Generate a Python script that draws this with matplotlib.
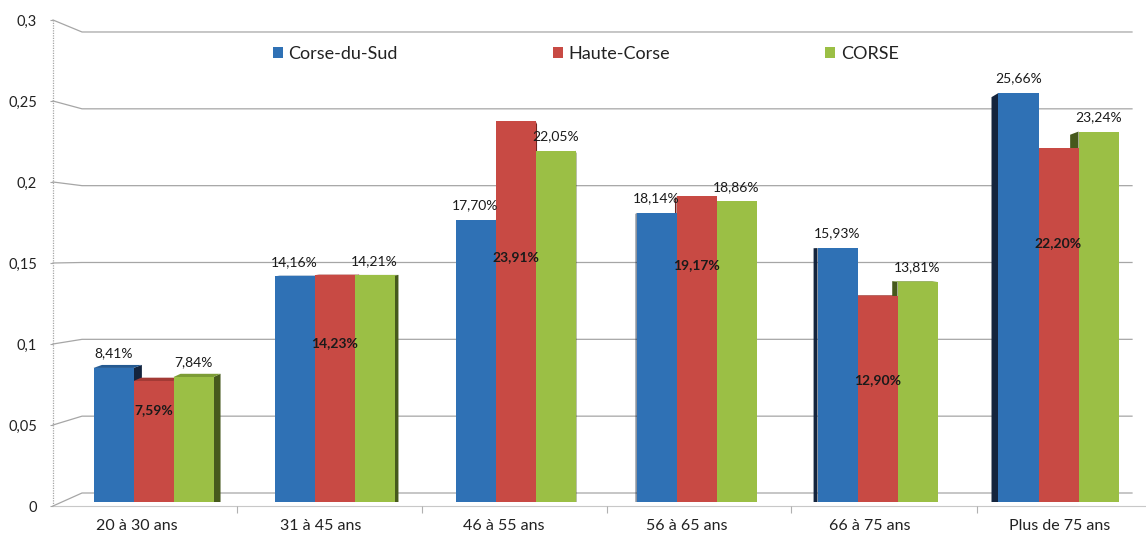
import matplotlib
matplotlib.use("Agg")
import matplotlib.pyplot as plt
from matplotlib.patches import Polygon, Patch
import numpy as np

plt.rcParams['font.family'] = ['Lato', 'DejaVu Sans']

# ---------------- data ----------------
categories = ["20 à 30 ans", "31 à 45 ans", "46 à 55 ans", "56 à 65 ans", "66 à 75 ans", "Plus de 75 ans"]
series_names = ["Corse-du-Sud", "Haute-Corse", "CORSE"]
corse_du_sud = [0.0841, 0.1416, 0.1770, 0.1814, 0.1593, 0.2566]
haute_corse = [0.0759, 0.1423, 0.2391, 0.1917, 0.1290, 0.2220]
corse = [0.0784, 0.1421, 0.2205, 0.1886, 0.1381, 0.2324]
y_ticks = [0, 0.05, 0.1, 0.15, 0.2, 0.25, 0.3]
y_tick_labels = ["0", "0,05", "0,1", "0,15", "0,2", "0,25", "0,3"]
# heights (in value units) at which Excel placed the Haute-Corse labels (inside the bars)
haute_corse_label_y = [0.0577, 0.0998, 0.1537, 0.1487, 0.0765, 0.1625]

# ---------------- layout helpers (pixel geometry of the 3D look) ----------------
W, H = 1146, 537
fig = plt.figure(figsize=(W / 100, H / 100), dpi=100)
fig.patch.set_facecolor("white")

AX_L, AX_R, AX_T, AX_B = 53, 1146, 0, 506
ax = fig.add_axes([AX_L / W, 1 - AX_B / H, (AX_R - AX_L) / W, (AX_B - AX_T) / H])

X0, XS = 153.5, 181.0      # pixel x of group 0 centre, pixels per group
Y0, YS = 502.0, 1594.0     # pixel y of value 0 on the bars, pixels per unit

def px_x(px):
    return (px - X0) / XS

def px_y(py):
    return (Y0 - py) / YS

ax.set_xlim(px_x(AX_L), px_x(AX_R))
ax.set_ylim(px_y(AX_B), px_y(AX_T))
for s in ax.spines.values():
    s.set_visible(False)

grid_col = "#a6a6a6"

def front_y(v):   # front axis (tick positions)
    return px_y(506 - 1620 * v)

def back_y(v):    # back wall
    return px_y(493 - 1536.7 * v)

# back-wall gridlines with perspective slant
for v in y_ticks:
    ax.plot([px_x(53), px_x(82), px_x(1132)], [front_y(v), back_y(v), back_y(v)],
            color=grid_col, lw=0.9, zorder=1, clip_on=False)
# front vertical axis line
ax.plot([px_x(53), px_x(53)], [front_y(0), front_y(0.3)], color=grid_col, lw=0.9,
        ls=(0, (1, 1)), zorder=1, clip_on=False)
# front floor edge
ax.plot([px_x(53), px_x(1146)], [front_y(0), front_y(0)], color="#c8c8c8", lw=0.8,
        zorder=1, clip_on=False)

# y ticks on the front axis
ax.set_yticks([front_y(v) for v in y_ticks])
ax.set_yticklabels(y_tick_labels)
ax.tick_params(axis="y", length=2.5, width=0.8, color=grid_col, pad=9, labelsize=10.5,
               labelcolor="#222222")

# category labels (shifted by perspective) and small separator ticks
label_px = [137, 321, 504, 687, 870, 1060]
sep_px = [237, 422, 607, 791, 977]
ax.set_xticks([px_x(p) for p in label_px])
ax.set_xticklabels(categories)
ax.set_xticks([px_x(p) for p in sep_px], minor=True)
ax.tick_params(axis="x", which="major", length=0, pad=9, labelsize=11.5, labelcolor="#222222")
ax.tick_params(axis="x", which="minor", length=5, width=0.8, color="#b0b0b0")

# ---------------- bars ----------------
colors = ["#2f71b5", "#c84a44", "#9bbf45"]
side_colors = ["#14243d", "#6e2420", "#46591c"]
top_colors = ["#245a92", "#a33a35", "#7c9c35"]
bw = 40 / XS
offsets = [-bw, 0, bw]
series = [corse_du_sud, haute_corse, corse]
xpos = np.arange(len(categories))

for si, vals in enumerate(series):
    xs = xpos + offsets[si]
    ax.bar(xs, vals, width=bw, color=colors[si], edgecolor="none", zorder=3,
           label=series_names[si])
    for x, v in zip(xs, vals):
        xc_px = X0 + x * XS
        dx = 0.017 * (607 - xc_px) / XS
        dy = -0.5 * (-13 + 83.3 * v) / YS
        x0, x1 = x - bw / 2, x + bw / 2
        edge = x1 if dx > 0 else x0
        side = Polygon([(edge, 0), (edge, v), (edge + dx, v + dy), (edge + dx, 0)],
                       closed=True, facecolor=side_colors[si], edgecolor="none", zorder=2)
        ax.add_patch(side)
        if dy > 0:
            top = Polygon([(x0, v), (x1, v), (x1 + dx, v + dy), (x0 + dx, v + dy)],
                          closed=True, facecolor=top_colors[si], edgecolor="none", zorder=2)
            ax.add_patch(top)

def fmt(v):
    return f"{v * 100:.2f}%".replace(".", ",")

lab_kw = dict(ha="center", va="center", fontsize=10, color="#1a1a1a", zorder=5)
for i in range(len(categories)):
    ax.annotate(fmt(corse_du_sud[i]), (xpos[i] + offsets[0], corse_du_sud[i]),
                xytext=(0, 10.5), textcoords="offset points", **lab_kw)
    ax.annotate(fmt(corse[i]), (xpos[i] + offsets[2], corse[i]),
                xytext=(0, 10.5), textcoords="offset points", **lab_kw)
    ax.text(xpos[i] + offsets[1], haute_corse_label_y[i], fmt(haute_corse[i]),
            fontweight="bold", **lab_kw)

# ---------------- legend ----------------
handles = [Patch(facecolor=c, edgecolor="none") for c in colors]
fig.legend(handles, series_names, loc="center left", bbox_to_anchor=(264 / W, 1 - 54 / H),
           ncol=3, frameon=False, fontsize=13, handlelength=0.55, handleheight=0.55,
           handletextpad=0.3, columnspacing=8.6, borderpad=0, labelcolor="#222222")

fig.savefig("out.png", dpi=100, facecolor="white")
